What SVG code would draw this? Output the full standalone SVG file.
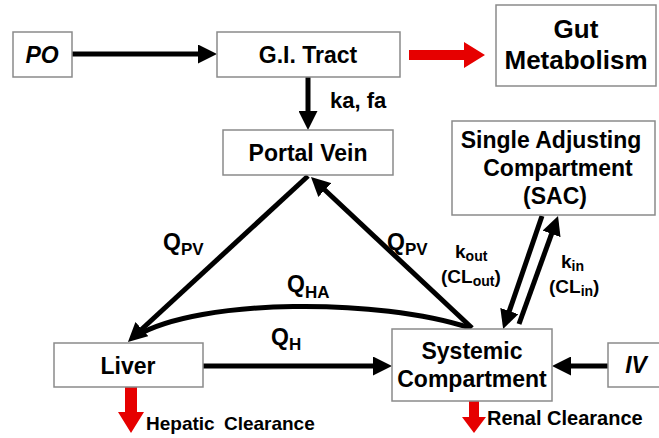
<svg xmlns="http://www.w3.org/2000/svg" width="659" height="438" viewBox="0 0 659 438">
<style>
.box{fill:#fff;stroke:#8a8a8a;stroke-width:1.5}
.t{font-family:"Liberation Sans",Arial,sans-serif;font-weight:bold;fill:#000}
.c{text-anchor:middle}
.ln{stroke:#000;stroke-width:5;fill:none}
.red{fill:#e60000}
.q{font-size:23px}
.qs{font-size:17px}
.k{font-size:19px}
.ks{font-size:14px}
</style>
<defs>
<marker id="ah" markerUnits="userSpaceOnUse" markerWidth="19" markerHeight="19" refX="8" refY="9.5" orient="auto">
<path d="M0,0 L19,9.5 L0,19 z" fill="#000"/>
</marker>
</defs>
<rect width="659" height="438" fill="#fff"/>
<g id="connectors">
<line class="ln" x1="72" y1="54" x2="206" y2="54" marker-end="url(#ah)"/>
<line class="ln" x1="308" y1="77" x2="308" y2="119" marker-end="url(#ah)"/>
<line class="ln" x1="308" y1="176" x2="136" y2="334.5" marker-end="url(#ah)"/>
<line class="ln" x1="472" y1="328" x2="319" y2="184.5" marker-end="url(#ah)"/>
<path class="ln" d="M470,328 C380,298 200,298 136,336"/>
<line class="ln" x1="203" y1="366" x2="381" y2="366" marker-end="url(#ah)"/>
<line class="ln" x1="608" y1="366" x2="563" y2="366" marker-end="url(#ah)"/>
<line class="ln" x1="542" y1="216" x2="506.7" y2="318.6" marker-end="url(#ah)"/>
<line class="ln" x1="519" y1="324" x2="554.3" y2="226.4" marker-end="url(#ah)"/>
<polygon class="red" points="409,50 464,50 464,42 485,55 464,68 464,60 409,60"/>
<polygon class="red" points="125,387 137,387 137,412 144,412 131,433 118,412 125,412"/>
<polygon class="red" points="469,401 479,401 479,417 486,417 474,433 462,417 469,417"/>
<text class="t" x="330" y="108" font-size="22">ka, fa</text>
<text class="t q" x="163" y="250">Q<tspan class="qs" dy="5">PV</tspan></text>
<text class="t q" x="387" y="250">Q<tspan class="qs" dy="5">PV</tspan></text>
<text class="t q" x="287" y="292">Q<tspan class="qs" dy="6">HA</tspan></text>
<text class="t q" x="271" y="345">Q<tspan class="qs" dy="5">H</tspan></text>
<text class="t k" x="455" y="258">k<tspan class="ks" dy="3">out</tspan></text>
<text class="t k" x="441" y="283">(CL<tspan class="ks" dy="3">out</tspan><tspan dy="-3">)</tspan></text>
<text class="t k" x="561" y="268">k<tspan class="ks" dy="3">in</tspan></text>
<text class="t k" x="549" y="293">(CL<tspan class="ks" dy="3">in</tspan><tspan dy="-3">)</tspan></text>
<text class="t" x="146" y="430" font-size="19" word-spacing="4">Hepatic Clearance</text>
<text class="t" x="487" y="425" font-size="20">Renal Clearance</text>
</g>
<g id="po">
<rect class="box" x="13" y="32" width="59" height="45"/>
<text class="t c" x="42" y="63" font-size="23" font-style="italic">PO</text>
</g>
<g id="gi">
<rect class="box" x="217" y="32" width="183" height="45"/>
<text class="t c" x="308" y="63" font-size="23">G.I. Tract</text>
</g>
<g id="gut">
<rect class="box" x="496" y="5" width="160" height="81"/>
<text class="t c" x="576" y="38" font-size="26">Gut</text>
<text class="t c" x="576" y="69" font-size="26">Metabolism</text>
</g>
<g id="portal">
<rect class="box" x="223" y="130" width="170" height="45"/>
<text class="t c" x="308" y="161" font-size="23">Portal Vein</text>
</g>
<g id="sac">
<rect class="box" x="452" y="121" width="203" height="94"/>
<text class="t c" x="551" y="148" font-size="23">Single Adjusting</text>
<text class="t c" x="558" y="176" font-size="23">Compartment</text>
<text class="t c" x="555" y="204" font-size="23">(SAC)</text>
</g>
<g id="liver">
<rect class="box" x="54" y="343" width="149" height="44"/>
<text class="t c" x="128" y="374" font-size="23">Liver</text>
</g>
<g id="systemic">
<rect class="box" x="392" y="329" width="160" height="72"/>
<text class="t c" x="472" y="359" font-size="23">Systemic</text>
<text class="t c" x="472" y="387" font-size="23">Compartment</text>
</g>
<g id="iv">
<rect class="box" x="608" y="343" width="60" height="44"/>
<text class="t c" x="636" y="373" font-size="23" font-style="italic">IV</text>
</g>
</svg>
